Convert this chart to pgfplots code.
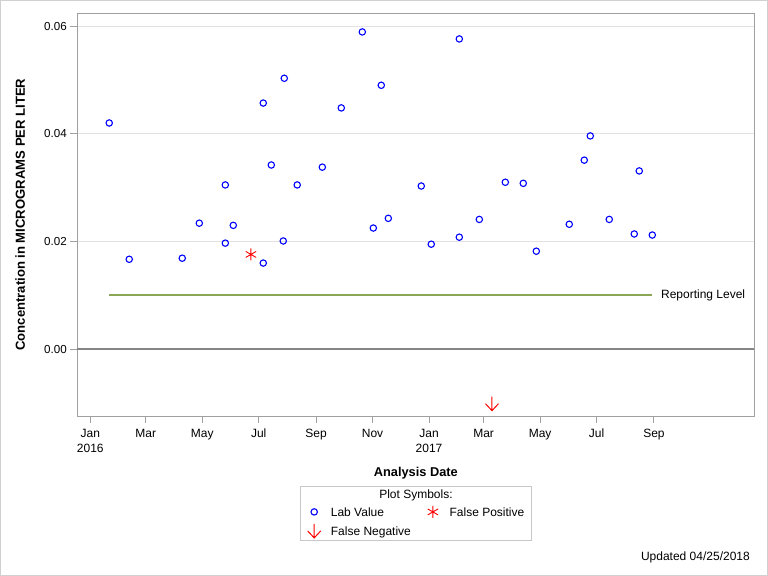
\documentclass[border=0pt]{standalone}
\usepackage{pgfplots}
\pgfplotsset{compat=1.18}
\usepackage{fontspec}
\setmainfont{Liberation Sans}
\definecolor{axisgray}{HTML}{A0A0A0}
\definecolor{gridgray}{HTML}{E2E2E2}
\definecolor{zerogray}{HTML}{858585}
\definecolor{reportgreen}{HTML}{8BA756}
\definecolor{framegray}{HTML}{D0D0D0}
\definecolor{legframe}{HTML}{C8C8C8}
\pgfdeclareplotmark{fneg}{%
  \pgfpathmoveto{\pgfqpoint{0pt}{\pgfplotmarksize}}%
  \pgfpathlineto{\pgfqpoint{0pt}{-\pgfplotmarksize}}%
  \pgfpathmoveto{\pgfqpoint{-0.93\pgfplotmarksize}{0pt}}%
  \pgfpathlineto{\pgfqpoint{0pt}{-\pgfplotmarksize}}%
  \pgfpathlineto{\pgfqpoint{0.93\pgfplotmarksize}{0pt}}%
  \pgfusepathqstroke}
\begin{document}
\begin{tikzpicture}
\useasboundingbox (-77.3bp,416bp) rectangle (690.7bp,-160bp);
\draw[framegray, line width=1.5bp] (-76.55bp,415.25bp) rectangle (689.95bp,-159.25bp);
\begin{axis}[
  at={(0,0)}, anchor=south west,
  scale only axis, width=677bp, height=402.7bp,
  xmin=-14, xmax=717.4, ymin=-0.01239, ymax=0.06236,
  axis line style={axisgray, line width=1bp},
  tick align=outside, tick pos=left,
  major tick length=7bp,
  tick style={axisgray, line width=1bp},
  xtick={0,60,121,182,244,305,366,425,486,547,609},
  xticklabels={Jan\\2016,Mar,May,Jul,Sep,Nov,Jan\\2017,Mar,May,Jul,Sep},
  xticklabel style={align=center, yshift=-2.5bp, font=\fontsize{12bp}{15bp}\selectfont},
  ytick={0,0.02,0.04,0.06},
  scaled y ticks=false,
  /pgf/number format/assume math mode=true,
  yticklabel style={font=\fontsize{11.6bp}{13bp}\selectfont,
    /pgf/number format/fixed, /pgf/number format/fixed zerofill,
    /pgf/number format/precision=2},
  ymajorgrids, major grid style={gridgray, line width=1bp},
  xlabel={Analysis Date},
  every axis x label/.style={at={(axis description cs:0.5,-0.149)}, anchor=base, inner sep=0pt,
    font=\fontsize{12.8bp}{14bp}\selectfont\bfseries},
  ylabel={Concentration in MICROGRAMS PER LITER},
  every axis y label/.style={at={(axis description cs:-0.0773,0.5)}, rotate=90, anchor=base, inner sep=0pt,
    font=\fontsize{13.1bp}{14bp}\selectfont\bfseries},
  legend columns=2,
  legend cell align=left,
  legend style={draw=none, fill=none, inner sep=0pt, at={(axis description cs:0.3393,-0.2141)}, anchor=north west,
    column sep=9.7bp, row sep=0pt, nodes={inner sep=0pt, text depth=0pt},
    font=\fontsize{12bp}{14bp}\selectfont},
  legend image code/.code={\path[draw=none, fill=none] (-7bp,-9.5bp) rectangle (7bp,9.5bp); \draw[#1] plot coordinates {(0bp,0bp)};},
  clip=false,
]
\addplot[forget plot, zerogray, line width=2bp] coordinates {(-14,0) (717.4,0)};
\addplot[forget plot, reportgreen, line width=2bp] coordinates {(20.5,0.01) (606.8,0.01)};
\node[anchor=west, inner sep=0pt, font=\fontsize{12bp}{13bp}\selectfont] at (axis cs:606.8,0.01) [xshift=9bp] {Reporting Level};
\addplot[only marks, mark=o, mark size=3.2bp, blue, line width=1.1bp] coordinates {
(20.5,0.0420) (42.1,0.0167) (99.4,0.0169) (117.8,0.0234) (145.9,0.0305)
(145.9,0.0197) (154.5,0.0230) (186.9,0.0457) (186.9,0.0160) (195.6,0.0342)
(209.6,0.0503) (208.5,0.0201) (223.6,0.0305) (250.7,0.0338) (271.2,0.0448)
(293.9,0.0589) (314.4,0.0490) (305.8,0.0225) (322.0,0.0243) (357.6,0.0303)
(368.4,0.0195) (398.7,0.0576) (398.7,0.0208) (420.3,0.0241) (448.4,0.0310)
(467.8,0.0308) (481.9,0.0182) (517.5,0.0232) (533.7,0.0351) (540.2,0.0396)
(560.7,0.0241) (587.7,0.0214) (593.1,0.0331) (607.2,0.0212)
};
\addlegendentry{\makebox[85.3bp][l]{Lab Value}}
\addplot[only marks, mark=asterisk, mark size=6bp, red, line width=0.9bp] coordinates {(173.6,0.0176)};
\addlegendentry{False Positive}
\addplot[only marks, mark=fneg, mark size=7bp, red, line width=1bp] coordinates {(434,-0.0101)};
\addlegendentry{\makebox[85.3bp][l]{False Negative}}
\end{axis}
\draw[legframe, line width=1bp] (223.4bp,-70.7bp) rectangle (454bp,-124bp);
\node[anchor=base, inner sep=0pt, font=\fontsize{12bp}{14bp}\selectfont] at (338.7bp,-82.7bp) {Plot Symbols:};
\node[anchor=base east, inner sep=0pt, font=\fontsize{12bp}{14bp}\selectfont] at (672.7bp,-144.7bp) {Updated 04/25/2018};
\end{tikzpicture}
\end{document}
